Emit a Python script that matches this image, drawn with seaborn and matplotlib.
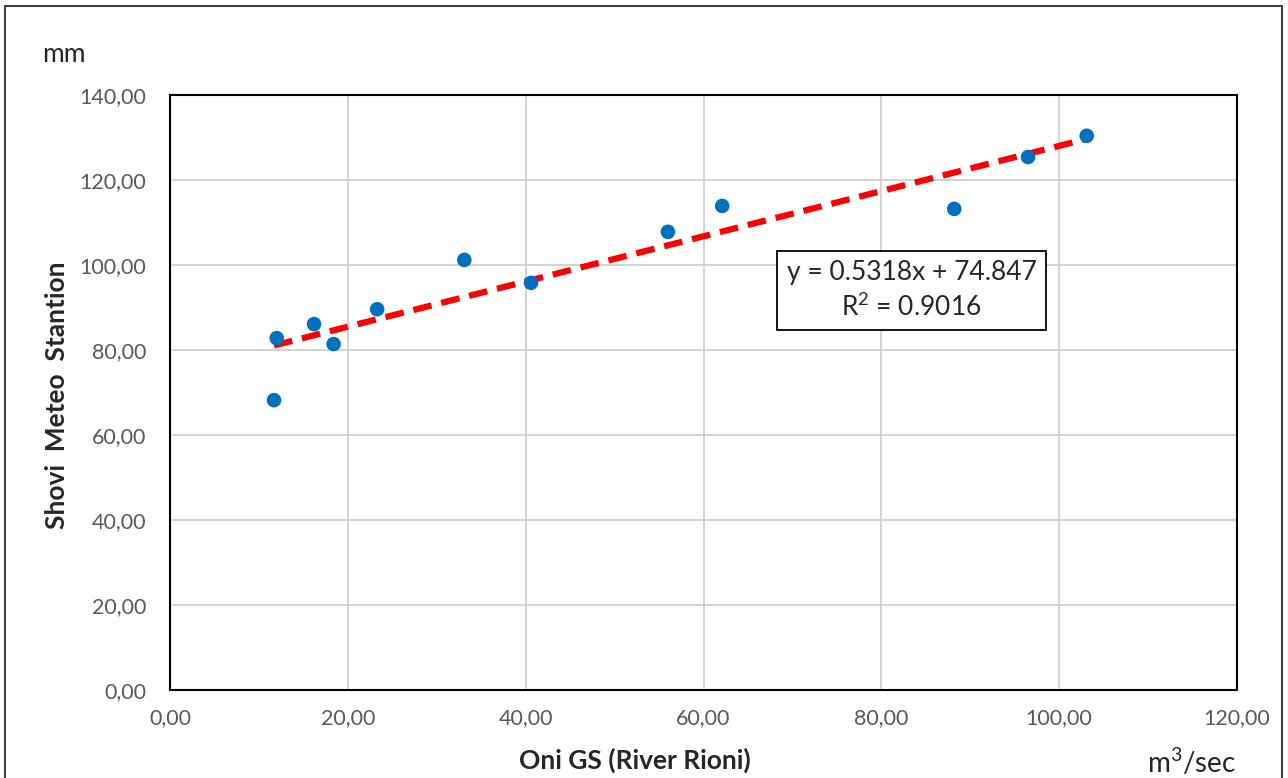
import numpy as np
import pandas as pd
import seaborn as sns
import matplotlib.pyplot as plt
from matplotlib.ticker import FuncFormatter
from matplotlib.patches import Rectangle

# discharge at Oni GS vs precipitation at Shovi
flow = [11.7, 12.0, 16.2, 18.4, 23.3, 33.1, 40.6, 56.0, 62.1, 88.2, 96.5, 103.1]
precip = [68.2, 82.8, 86.1, 81.4, 89.6, 101.2, 95.8, 107.8, 113.9, 113.2, 125.4, 130.4]
slope = 0.5318
intercept = 74.847
r2 = 0.9016

df = pd.DataFrame({'flow': flow, 'precip': precip})

sns.set_style('whitegrid')
plt.rcParams['font.family'] = ['Lato', 'DejaVu Sans']
plt.rcParams['mathtext.fontset'] = 'custom'
plt.rcParams['mathtext.rm'] = 'Lato'
plt.rcParams['mathtext.default'] = 'regular'

fig = plt.figure(figsize=(12.88, 7.78), dpi=100)
ax = fig.add_axes([170/1288, 1 - 690/778, (1237-170)/1288, (690-95)/778])

#trend line over the data range
xs = np.array([min(flow), max(flow)])
ax.plot(xs, slope*xs + intercept, color='#ff0000', lw=4.5, ls=(0, (3, 1.6)), zorder=3)

sns.scatterplot(data=df, x='flow', y='precip', ax=ax, color='#0070c0',
                s=110, edgecolor='none', zorder=4)

ax.set_xlim(0, 120)
ax.set_ylim(0, 140)
ax.set_xticks(np.arange(0, 121, 20))
ax.set_yticks(np.arange(0, 141, 20))
fmt = FuncFormatter(lambda v, p: f"{v:.2f}".replace('.', ','))
ax.xaxis.set_major_formatter(fmt)
ax.yaxis.set_major_formatter(fmt)
ax.tick_params(labelsize=15.5, colors='#595959', length=0)
ax.tick_params(axis='y', pad=17)
ax.tick_params(axis='x', pad=13)
ax.grid(color='#d0d0d0', lw=1.3)
for s in ax.spines.values():
    s.set_color('black')
    s.set_linewidth(1.5)

ax.set_xlabel('')
ax.set_ylabel('')
fig.text(635/1288, 1 - 760/778, 'Oni GS (River Rioni)', fontsize=19,
         fontweight='bold', ha='center', va='center')
fig.text(57/1288, 1 - 395/778, 'Shovi  Meteo  Stantion', fontsize=19,
         fontweight='bold', ha='center', va='center', rotation=90)

fig.text(42/1288, 1 - 54/778, 'mm', fontsize=19, va='center', ha='left')
fig.text(1147/1288, 1 - 762/778, 'm$^3$/sec', fontsize=20, va='center', ha='left')

ax.text(0.695, 0.671, f'y = {slope}x + {intercept}\nR$^2$ = {r2}', transform=ax.transAxes,
        ha='center', va='center', fontsize=19, linespacing=1.35, zorder=5,
        bbox=dict(boxstyle='square,pad=0.35', fc='white', ec='black', lw=1.3))

# outer frame of the chart area
fig.patches.append(Rectangle((5/1288, -0.05), 1277/1288, 1.05 - 6/778,
                             transform=fig.transFigure, fill=False,
                             ec='#404040', lw=1.5))

fig.savefig('out.png', dpi=100)
